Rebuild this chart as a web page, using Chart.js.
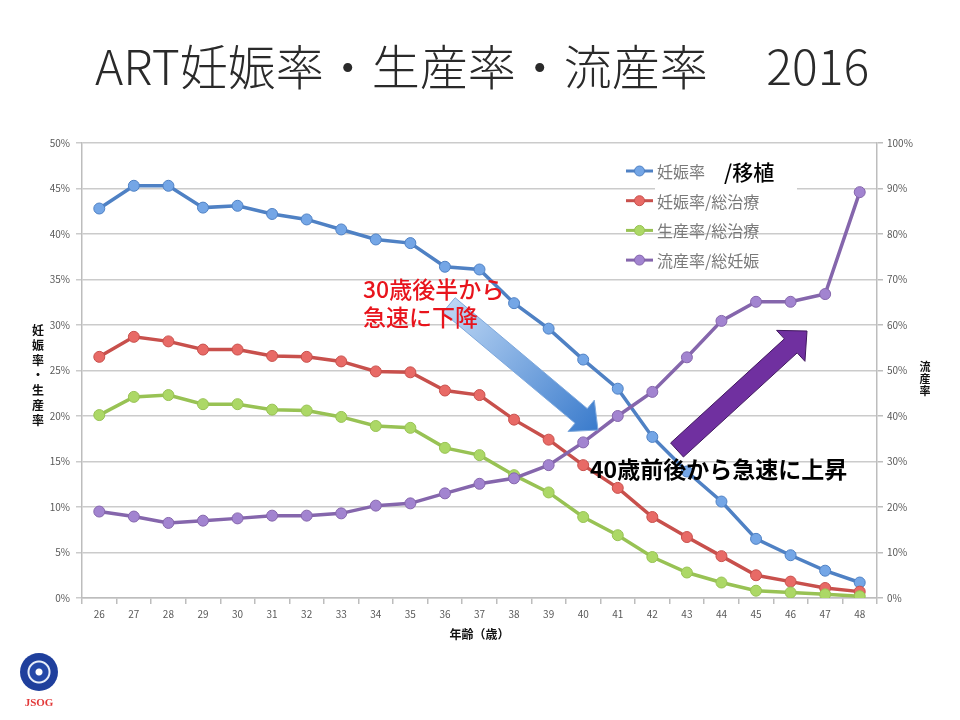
<!DOCTYPE html>
<html>
<head>
<meta charset="utf-8">
<script src="https://cdn.jsdelivr.net/npm/chart.js@4.4.1/dist/chart.umd.min.js"></script>
<style>
  html, body { margin: 0; padding: 0; background: #fff; }
  #wrap { position: relative; width: 960px; height: 720px; }
  #title {
    position: absolute; left: 2px; top: 34px; width: 960px; text-align: center;
    font-family: "Noto Sans CJK JP", "Noto Sans", sans-serif; font-weight: 300;
    font-size: 48px; color: #2a2a2a; line-height: 60px; white-space: pre;
  }
  #logo { position: absolute; left: 14px; top: 653px; width: 50px; text-align: center; }
  #logo .ball {
    width: 38px; height: 38px; margin: 0 auto; border-radius: 50%;
    background: radial-gradient(circle at 50% 50%, #fff 0 3px, #2448a8 4px 9px, #e8eefa 10px 11px, #1f3f9c 12px);
  }
  #logo .txt { font-family: "Liberation Serif", serif; font-weight: bold; font-size: 11px; color: #e23a3a; margin-top: 5px; }
</style>
</head>
<body>
<div id="wrap">
  <canvas id="chart" width="960" height="720"></canvas>
  <div id="title">ART妊娠率・生産率・流産率　 2016</div>
  <div id="logo"><div class="ball"></div><div class="txt">JSOG</div></div>
</div>
<script>
const ages = ['26', '27', '28', '29', '30', '31', '32', '33', '34', '35', '36', '37',
              '38', '39', '40', '41', '42', '43', '44', '45', '46', '47', '48'];
// 妊娠率/移植 (left axis, %)
const pregPerET = [42.8, 45.3, 45.3, 42.9, 43.1, 42.2, 41.6, 40.5, 39.4, 39.0, 36.4, 36.1,
                   32.4, 29.6, 26.2, 23.0, 17.7, 13.9, 10.6, 6.5, 4.7, 3.0, 1.7];
// 妊娠率/総治療 (left axis, %)
const pregPerCycle = [26.5, 28.7, 28.2, 27.3, 27.3, 26.6, 26.5, 26.0, 24.9, 24.8, 22.8, 22.3,
                      19.6, 17.4, 14.6, 12.1, 8.9, 6.7, 4.6, 2.5, 1.8, 1.1, 0.7];
// 生産率/総治療 (left axis, %)
const livePerCycle = [20.1, 22.1, 22.3, 21.3, 21.3, 20.7, 20.6, 19.9, 18.9, 18.7, 16.5, 15.7,
                      13.5, 11.6, 8.9, 6.9, 4.5, 2.8, 1.7, 0.8, 0.6, 0.4, 0.2];
// 流産率/総妊娠 (right axis, %)
const miscPerPreg = [19.0, 17.9, 16.5, 17.0, 17.5, 18.1, 18.1, 18.6, 20.3, 20.8, 23.0, 25.1,
                     26.3, 29.2, 34.2, 40.0, 45.3, 52.9, 60.9, 65.1, 65.1, 66.8, 89.2];

const legendLabels = ['妊娠率', '妊娠率/総治療', '生産率/総治療', '流産率/総妊娠'];
const leftAxisTitle = ['妊', '娠', '率', '・', '生', '産', '率'];
const rightAxisTitle = ['流', '産', '率'];

const FONT = '"Noto Sans CJK JP", "Noto Sans", sans-serif';

const series = [
  { data: pregPerET, line: '#4f81c4', fill: '#74a6e6', axis: 'y' },
  { data: pregPerCycle, line: '#c8504c', fill: '#e86a66', axis: 'y' },
  { data: livePerCycle, line: '#98c254', fill: '#acd866', axis: 'y' },
  { data: miscPerPreg, line: '#8566ac', fill: '#a284d0', axis: 'y1' }
];

function arrow(ctx, tx, ty, px, py, sw, hw, hl) {
    const len = Math.hypot(px - tx, py - ty);
    const ux = (px - tx) / len, uy = (py - ty) / len;
    const nx = -uy, ny = ux;
    const bx = px - ux * hl, by = py - uy * hl;
    ctx.beginPath();
    ctx.moveTo(tx + nx * sw / 2, ty + ny * sw / 2);
    ctx.lineTo(bx + nx * sw / 2, by + ny * sw / 2);
    ctx.lineTo(bx + nx * hw / 2, by + ny * hw / 2);
    ctx.lineTo(px, py);
    ctx.lineTo(bx - nx * hw / 2, by - ny * hw / 2);
    ctx.lineTo(bx - nx * sw / 2, by - ny * sw / 2);
    ctx.lineTo(tx - nx * sw / 2, ty - ny * sw / 2);
    ctx.closePath();
}

const decorations = {
    id: 'decorations',
    beforeDatasetsDraw(chart) {
        const ctx = chart.ctx;
        // white box behind the legend text
        ctx.save();
        ctx.fillStyle = '#fff';
        ctx.fillRect(655, 180, 142, 16);
        ctx.restore();
    },
    afterDatasetsDraw(chart) {
        const ctx = chart.ctx;
        ctx.save();

        // legend
        legendLabels.forEach((lab, i) => {
            const y = 171 + i * 29.7;
            ctx.strokeStyle = series[i].line;
            ctx.lineWidth = 3;
            ctx.beginPath();
            ctx.moveTo(626, y);
            ctx.lineTo(653, y);
            ctx.stroke();
            ctx.fillStyle = series[i].fill;
            ctx.strokeStyle = series[i].line;
            ctx.lineWidth = 1;
            ctx.beginPath();
            ctx.arc(639.5, y, 5, 0, Math.PI * 2);
            ctx.fill();
            ctx.stroke();
            ctx.fillStyle = '#7a7a7a';
            ctx.font = '16px ' + FONT;
            ctx.textBaseline = 'middle';
            ctx.textAlign = 'left';
            ctx.fillText(lab, 657, y + 1);
        });
        ctx.fillStyle = '#000';
        ctx.font = '500 21px ' + FONT;
        ctx.fillText('/移植', 724, 172);

        // axis titles, stacked vertically
        ctx.fillStyle = '#111';
        ctx.textAlign = 'center';
        ctx.font = 'bold 12px ' + FONT;
        leftAxisTitle.forEach((c, i) => ctx.fillText(c, 38, 330 + i * 15));
        ctx.font = 'bold 11px ' + FONT;
        rightAxisTitle.forEach((c, i) => ctx.fillText(c, 925, 367 + i * 12));

        // blue arrow
        let g = ctx.createLinearGradient(449, 305, 598, 430);
        g.addColorStop(0, '#bcd6f4');
        g.addColorStop(1, '#3a7bcc');
        ctx.fillStyle = g;
        ctx.strokeStyle = '#7ea8dc';
        ctx.lineWidth = 1;
        arrow(ctx, 449, 305, 598, 430, 19, 41, 22);
        ctx.fill();
        ctx.stroke();

        // purple arrow
        ctx.fillStyle = '#7030a0';
        ctx.strokeStyle = '#40185e';
        arrow(ctx, 677, 450, 807, 331, 19, 42, 22);
        ctx.fill();
        ctx.stroke();

        // annotation text
        ctx.textAlign = 'left';
        ctx.textBaseline = 'middle';
        ctx.fillStyle = '#e8141c';
        ctx.font = '500 23px ' + FONT;
        ctx.fillText('30歳後半から', 363, 289);
        ctx.fillText('急速に下降', 363, 317);
        ctx.fillStyle = '#000';
        ctx.font = 'bold 23px ' + FONT;
        ctx.fillText('40歳前後から急速に上昇', 590, 469);

        ctx.restore();
    }
};

const datasets = series.map((s, i) => ({
    label: legendLabels[i],
    data: s.data,
    yAxisID: s.axis,
    borderColor: s.line,
    backgroundColor: s.fill,
    pointBackgroundColor: s.fill,
    pointBorderColor: s.line,
    pointBorderWidth: 1,
    pointRadius: 5.5,
    borderWidth: 3.5,
    tension: 0,
    order: 4 - i
}));

const tickFont = { family: FONT, size: 10 };

new Chart(document.getElementById('chart').getContext('2d'), {
    type: 'line',
    data: { labels: ages, datasets: datasets },
    options: {
        responsive: false,
        animation: false,
        devicePixelRatio: 1,
        layout: { padding: { top: 143, bottom: 74, left: 0, right: 0 } },
        plugins: {
            legend: { display: false },
            title: { display: false },
            tooltip: { enabled: false }
        },
        scales: {
            x: {
                offset: true,
                grid: { offset: true, drawOnChartArea: false, tickLength: 6, color: '#bdbdbd', lineWidth: 1.5 },
                border: { color: '#bdbdbd', width: 1.5 },
                ticks: { color: '#595959', font: tickFont, padding: 4, maxRotation: 0, autoSkip: false },
                title: { display: true, text: '年齢（歳）', color: '#111', font: { family: FONT, size: 12, weight: 'bold' }, padding: { top: 4 } },
                afterFit(scale) { scale.height = 48; }
            },
            y: {
                position: 'left',
                min: 0, max: 50,
                ticks: { stepSize: 5, color: '#595959', font: tickFont, padding: 6, callback: v => v + '%' },
                grid: { color: '#cbcbcb', lineWidth: 1.5, tickLength: 6 },
                border: { color: '#bdbdbd', width: 1.5 },
                afterFit(scale) { scale.width = 82; }
            },
            y1: {
                position: 'right',
                min: 0, max: 100,
                ticks: { stepSize: 10, color: '#595959', font: tickFont, padding: 4, callback: v => v + '%' },
                grid: { drawOnChartArea: false, color: '#bdbdbd', lineWidth: 1.5, tickLength: 6 },
                border: { color: '#bdbdbd', width: 1.5 },
                afterFit(scale) { scale.width = 83; }
            }
        }
    },
    plugins: [decorations]
});
</script>
</body>
</html>
